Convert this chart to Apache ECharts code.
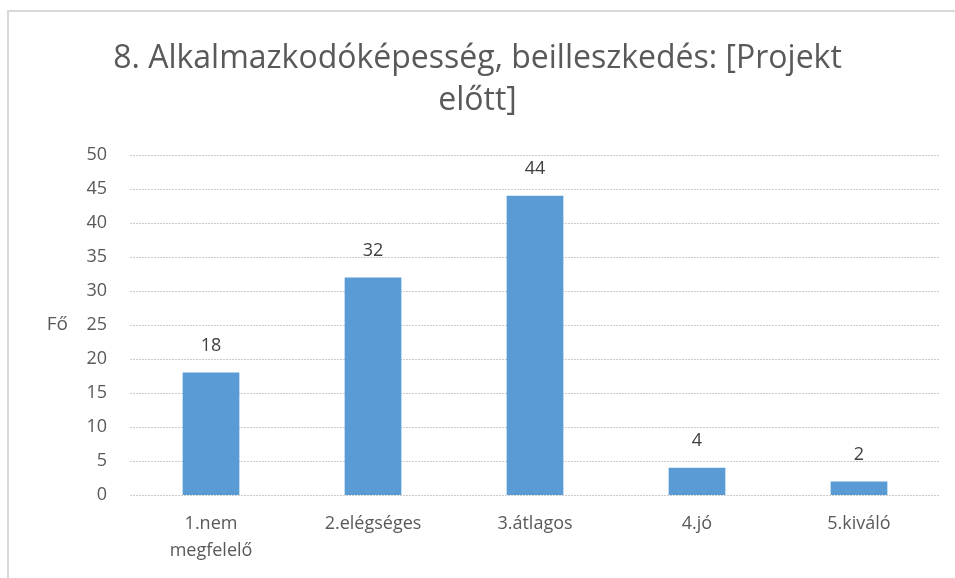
<!DOCTYPE html>
<html>
<head>
<meta charset="utf-8">
<script src="https://cdn.jsdelivr.net/npm/echarts@6/dist/echarts.min.js"></script>
<style>
  html, body { margin: 0; padding: 0; background: #fff; }
  #chart { width: 955px; height: 578px; }
</style>
</head>
<body>
<div id="chart"></div>
<script>
const categories = ['1.nem\nmegfelelő', '2.elégséges', '3.átlagos', '4.jó', '5.kiváló'];
const values = [18, 32, 44, 4, 2];
const titleText = '8. Alkalmazkodóképesség, beilleszkedés: [Projekt\nelőtt]';
const yAxisName = 'Fő';

const font = 'Open Sans';
const chart = echarts.init(document.getElementById('chart'));

chart.setOption({
  animation: false,
  graphic: [{
    type: 'rect',
    shape: { x: 8, y: 11, width: 1000, height: 700 },
    style: { fill: 'none', stroke: '#d9d9d9', lineWidth: 2 },
    silent: true
  }],
  title: {
    text: titleText,
    left: 'center',
    top: 33,
    textStyle: {
      fontFamily: font,
      fontSize: 32,
      fontWeight: 'normal',
      color: '#595959',
      lineHeight: 42
    }
  },
  grid: { left: 130, right: 15, top: 155, bottom: 83 },
  xAxis: {
    type: 'category',
    data: categories,
    axisLine: { show: false },
    axisTick: { show: false },
    axisLabel: {
      fontFamily: font,
      fontSize: 18,
      color: '#595959',
      margin: 15,
      lineHeight: 27
    }
  },
  yAxis: {
    type: 'value',
    min: 0,
    max: 50,
    interval: 5,
    name: yAxisName,
    nameLocation: 'middle',
    nameGap: 62,
    nameRotate: 0,
    nameTextStyle: { fontFamily: font, fontSize: 19, color: '#595959' },
    axisLine: { show: false },
    axisTick: { show: false },
    axisLabel: {
      fontFamily: font,
      fontSize: 18,
      color: '#595959',
      margin: 23
    },
    splitLine: { lineStyle: { color: '#cccccc', type: [2, 1], width: 1 } }
  },
  series: [{
    type: 'bar',
    data: values,
    barWidth: '35%',
    itemStyle: { color: '#5b9bd5' },
    label: {
      show: true,
      position: 'top',
      distance: 18,
      fontFamily: font,
      fontSize: 18,
      color: '#404040'
    }
  }]
});
</script>
</body>
</html>
